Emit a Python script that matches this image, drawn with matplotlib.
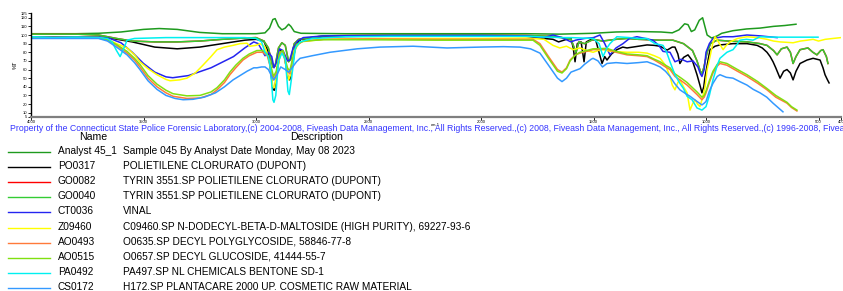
import numpy as np
import matplotlib
matplotlib.use("Agg")
import matplotlib.pyplot as plt

plt.rcParams['font.family'] = ['Liberation Sans', 'DejaVu Sans']

# spectra: (wavenumber cm-1, %T)
analyst = [(4000,101.5),(3800,101.5),(3700,102),(3600,103.5),(3500,106.5),(3430,107.5),(3350,106.5),(3250,103),
           (3150,101.5),(3000,101.5),(2960,102.5),(2940,108),(2925,118),(2915,119),(2900,110),(2885,106),(2870,108),
           (2855,112.5),(2845,110),(2830,104),(2800,102),(2600,101.5),(2200,101.5),(1800,101.5),(1650,101),(1500,102),
           (1400,103.5),(1300,104),(1200,103.5),(1150,102.5),(1120,106),(1095,113),(1080,112),(1065,104),(1050,106),
           (1030,117),(1015,120),(1005,110),(995,100),(975,96.5),(950,99),(930,102),(880,105),(820,107),(760,108),
           (700,110),(650,111),(600,112.5)]

po0317 = [(4000,97.5),(3700,97.5),(3650,96.5),(3550,92),(3450,86),(3350,84),(3250,86),(3150,90),(3050,94),(3000,95),
          (2965,93),(2945,80),(2925,37),(2918,36),(2905,60),(2890,82),(2875,78),(2858,50),(2850,48),(2840,60),(2825,88),
          (2800,95),(2700,98),(2400,99),(2100,99),(1800,98.5),(1720,96),(1680,95),(1655,92),(1620,95),(1600,96),
          (1590,85),(1582,69),(1572,90),(1555,92),(1542,69),(1532,92),(1510,95),(1490,94),(1462,67),(1450,75),
          (1440,71),(1420,78),(1396,83),(1370,86),(1351,85),(1300,87),(1262,88.5),(1230,88),(1204,87),(1173,82.5),
          (1150,86),(1138,86),(1125,78),(1116,67),(1100,74),(1080,77),(1060,70),(1040,54),(1025,40),(1018,33),
          (1010,40),(1004,52),(990,72),(982,83),(960,87),(938,88.5),(880,90),(818,90),(773,88),(750,85),(729,80),
          (715,75),(702,69),(690,62),(671,50),(655,58),(640,60),(625,56),(613,48),(600,58),(582,67),(551,71),
          (524,73),(493,71),(480,62),(471,54),(460,48),(453,44.5)]

go0040 = [(4000,101),(3800,101),(3700,100),(3620,96),(3550,93),(3450,92),(3350,92),(3250,93),(3150,95),(3050,96.5),
          (3000,97),(2965,93),(2945,85),(2925,63),(2915,64),(2900,85),(2885,91),(2870,88),(2855,69),(2845,72),
          (2830,90),(2810,95),(2700,99),(2400,100),(2000,100),(1800,99.5),(1700,98.5),(1640,97),(1600,95),(1578,80),
          (1565,92),(1540,90),(1500,95),(1460,93),(1400,95),(1351,96),(1300,95),(1204,94),(1147,94),(1100,90),
          (1060,82),(1040,70),(1025,58),(1018,55),(1010,62),(995,80),(980,90),(951,94),(900,93),(818,92),(760,90),
          (729,88),(700,82),(684,77),(665,84),(640,86),(625,80),(613,67),(600,75),(582,83),(547,85),(525,80),
          (507,77),(490,82),(480,83),(465,75),(458,67)]

# GO0082 lies under GO0040 (same material)
go0082 = go0040

ct0036 = [(4000,97.5),(3700,97.5),(3650,96),(3600,91),(3550,80),(3500,67),(3450,57),(3400,51.5),(3370,50.5),
          (3300,53),(3200,62),(3100,75),(3050,85),(3010,92),(2990,90),(2960,76),(2945,80),(2930,75),(2920,62),
          (2910,68),(2895,84),(2880,82),(2860,70),(2850,71),(2835,85),(2815,93),(2790,97),(2700,99),(2400,99.5),
          (2000,99.5),(1800,99),(1720,97),(1680,100),(1640,97),(1600,92),(1580,94),(1540,96),(1500,97),(1471,100),
          (1450,90),(1427,77),(1400,85),(1369,90),(1340,96),(1307,98),(1270,96),(1236,94),(1210,88),(1191,81),
          (1160,80),(1150,75),(1138,69),(1110,72),(1084,69),(1058,70),(1036,63),(1025,55),(1018,52),(1008,60),
          (1000,80),(985,90),(969,96),(924,98),(880,98),(818,100),(760,99),(684,97)]

z09460 = [(4000,97),(3700,97),(3660,95),(3620,90),(3573,85),(3540,77),(3516,69),(3480,61),(3440,54),(3400,48.5),
          (3382,47),(3340,48),(3307,50),(3270,56),(3236,65),(3200,75),(3173,83),(3140,86),(3102,88),(3071,90),
          (3040,90.5),(3027,87),(3000,88),(2982,90),(2960,86),(2940,70),(2925,40),(2918,39),(2905,60),(2890,80),
          (2875,76),(2855,48),(2845,55),(2830,82),(2804,92),(2700,95),(2500,96),(2200,96),(2000,96),(1800,96.5),
          (1720,95),(1680,88),(1650,85),(1620,87),(1590,83),(1560,85),(1530,82),(1502,80),(1480,82),(1458,83),
          (1420,81),(1351,80),(1300,80),(1262,79),(1230,76),(1204,73),(1180,65),(1160,52),(1150,42),(1138,36.5),
          (1125,45),(1116,48),(1100,40),(1084,33),(1071,13),(1060,20),(1049,25),(1038,20),(1027,17),(1015,28),
          (1004,40),(995,60),(982,75),(970,90),(960,98),(945,92),(924,83),(910,88),(893,92),(860,96),(818,98),
          (770,97),(729,95),(700,93),(671,92),(640,91.5),(613,91),(580,93),(550,94),(524,95),(500,93),(470,95),
          (436,96),(400,97)]

ao0493 = [(4000,96.5),(3700,96.5),(3660,94),(3620,88),(3573,79),(3540,71),(3516,63),(3480,50),(3440,40),(3400,33),
          (3369,29),(3307,26.5),(3249,27),(3200,31),(3173,36.5),(3140,45),(3116,54),(3090,62),(3058,71),(3030,76),
          (2996,80),(2970,80),(2950,76),(2935,62),(2922,48),(2910,55),(2895,78),(2880,80),(2860,58),(2850,55),
          (2838,70),(2820,88),(2790,93),(2700,95),(2500,95.5),(2200,95),(2000,95),(1850,95),(1769,95),(1738,90),
          (1700,75),(1660,60),(1640,57),(1620,62),(1604,71),(1580,77),(1560,79),(1502,83),(1440,83.5),(1400,80),
          (1351,77),(1300,76),(1262,75),(1230,71),(1204,67),(1180,63),(1160,60),(1138,52),(1110,47),(1084,42),
          (1060,36),(1040,31),(1018,25),(1008,28),(1000,33),(985,45),(969,56),(950,64),(938,67),(907,65),(860,58),
          (818,52),(770,44),(729,36.5),(690,28),(640,21),(620,16),(596,12)]

ao0515 = [(4000,97),(3700,97),(3660,94.5),(3620,89),(3573,81),(3540,73),(3516,66),(3480,53),(3440,43),(3400,36),
          (3369,32),(3307,29.5),(3249,30),(3200,34),(3173,39),(3140,48),(3116,57),(3090,65),(3058,73),(3030,78),
          (2996,82),(2970,82),(2950,78),(2935,65),(2922,52),(2910,58),(2895,80),(2880,82),(2860,62),(2850,58),
          (2838,72),(2820,89),(2790,93),(2700,94.5),(2500,94.5),(2200,94),(2000,94),(1850,94),(1769,94),(1738,88),
          (1700,73),(1660,58),(1640,56),(1620,61),(1604,70),(1580,77),(1560,80),(1502,84),(1440,84.5),(1400,81),
          (1351,78),(1300,77),(1262,76),(1230,72),(1204,69),(1180,65),(1160,62),(1138,55),(1110,50),(1084,45),
          (1060,39),(1040,34),(1018,28),(1008,30),(1000,35),(985,47),(969,58),(950,66),(938,69),(907,67),(860,60),
          (818,54),(770,46),(729,38),(690,30),(640,22),(620,17),(596,13)]

pa0492 = [(4000,98),(3900,97),(3800,97.5),(3700,97),(3660,96),(3640,92),(3620,82),(3604,75),(3590,83),(3573,94),
          (3540,96),(3400,97),(3200,97),(3050,97),(3000,96),(2975,92),(2960,80),(2945,75),(2935,60),(2925,25),
          (2920,22),(2912,30),(2900,70),(2885,79),(2870,72),(2858,35),(2852,31),(2842,50),(2825,85),(2804,92),
          (2750,96),(2600,98),(2400,98.5),(2000,98.5),(1800,98.5),(1700,97.5),(1640,97),(1600,97),(1502,96),
          (1475,90),(1458,75),(1440,85),(1427,90),(1396,98),(1340,97),(1307,96),(1262,96),(1227,90),(1191,88),
          (1175,80),(1160,69),(1138,54),(1116,44),(1100,38),(1084,29),(1062,25),(1040,15.5),(1018,13),(1000,17),
          (985,30),(969,48),(950,65),(938,73),(907,80),(880,83),(865,88),(849,94),(820,95),(791,94),(760,98),
          (702,97.5),(600,97.5),(502,97.5)]

cs0172 = [(4000,96),(3700,96),(3660,93),(3620,86),(3573,77),(3540,68),(3516,60),(3480,47),(3440,37),(3400,30),
          (3360,26.5),(3324,25),(3280,25.5),(3230,28),(3180,33),(3140,40),(3102,48),(3071,53),(3040,58),(3010,62),
          (2996,62),(2975,63),(2960,63),(2945,60),(2930,52),(2920,48),(2905,55),(2890,63),(2870,60),(2855,57),
          (2840,62),(2820,69),(2804,73),(2750,76),(2671,80),(2550,84),(2449,86),(2302,87),(2151,85),(2004,86),
          (1900,86.5),(1827,86),(1780,84),(1738,79),(1700,65),(1660,50),(1640,46),(1620,50),(1600,57),(1560,61),
          (1540,66),(1510,72),(1502,73),(1480,70),(1460,63),(1440,67),(1400,68),(1351,67),(1300,68),(1262,69),
          (1230,66),(1204,63),(1180,58),(1160,52),(1140,44),(1116,36.5),(1090,32),(1071,29),(1040,23),(1018,19),
          (1008,21),(1000,23),(985,35),(969,44),(950,52),(938,54),(910,51),(880,50),(850,46),(818,42),(790,37),
          (760,33),(730,28),(702,21),(680,16),(658,11)]

names = ["Analyst 45_1", "PO0317", "GO0082", "GO0040", "CT0036", "Z09460", "AO0493", "AO0515", "PA0492", "CS0172"]
descriptions = ["Sample 045 By Analyst Date Monday, May 08 2023",
                "POLIETILENE CLORURATO (DUPONT)",
                "TYRIN 3551.SP POLIETILENE CLORURATO (DUPONT)",
                "TYRIN 3551.SP POLIETILENE CLORURATO (DUPONT)",
                "VINAL",
                "C09460.SP N-DODECYL-BETA-D-MALTOSIDE (HIGH PURITY), 69227-93-6",
                "O0635.SP DECYL POLYGLYCOSIDE, 58846-77-8",
                "O0657.SP DECYL GLUCOSIDE, 41444-55-7",
                "PA497.SP NL CHEMICALS BENTONE SD-1",
                "H172.SP PLANTACARE 2000 UP. COSMETIC RAW MATERIAL"]
colors = ["#1e9a1e", "#000000", "#ff0000", "#33cc33", "#2424f0", "#ffff00", "#ff7a3a", "#80e010", "#00f0f0", "#3399ff"]
spectra = [analyst, po0317, go0082, go0040, ct0036, z09460, ao0493, ao0515, pa0492, cs0172]

copyright = ("Property of the Connecticut State Police Forensic Laboratory,(c) 2004-2008, Fiveash Data Management, "
             "Inc., All Rights Reserved.,(c) 2008, Fiveash Data Management, Inc., All Rights Reserved.,(c) 1996-2008, "
             "Fiveash Data Management, Inc., All Rights Reserved.")

W, H = 843, 291
fig = plt.figure(figsize=(W/100, H/100), dpi=100)
ax = fig.add_axes([31/W, 1-117/H, 810/W, 104/H])

for spec, c in zip(spectra, colors):
    s = np.array(spec)
    ax.plot(s[:, 0], s[:, 1], color=c, lw=1.1)

ax.set_xlim(4000, 400)
ax.set_ylim(5, 125.5)
ax.set_xticks([4000, 3500, 3000, 2500, 2000, 1500, 1000, 500, 400])
ax.set_yticks([5, 10, 20, 30, 40, 50, 60, 70, 80, 90, 100, 110, 120, 125])
ax.tick_params(labelsize=3, length=2, width=0.6, pad=0.5)
for s in ['top', 'right']:
    ax.spines[s].set_visible(False)
ax.spines['left'].set_linewidth(1.0)
ax.spines['bottom'].set_color('#7f7f7f')
ax.spines['bottom'].set_linewidth(1.6)
ax.set_ylabel('%T', fontsize=4, labelpad=2)

# overlay in pixel units for the table below the plot
ov = fig.add_axes([0, 0, 1, 1])
ov.set_xlim(0, W)
ov.set_ylim(H, 0)
ov.axis('off')

ov.text(435, 125.5, 'cm-1', fontsize=3, ha='center', va='center')
ov.text(10, 128.8, copyright, fontsize=6.3, color='#3535ff', ha='left', va='center', clip_on=False)
ov.text(93, 136.8, 'Name', fontsize=7.6, ha='center', va='center')
ov.text(317, 136.8, 'Description', fontsize=7.6, ha='center', va='center')

for i, (n, d, c) in enumerate(zip(names, descriptions, colors)):
    y = 151 + i * 15.1
    ov.plot([8, 50], [y + 1, y + 1], color=c, lw=1.0)
    ov.text(58, y, n, fontsize=7.3, ha='left', va='center')
    ov.text(123, y, d, fontsize=7.3, ha='left', va='center')

fig.savefig('out.png', dpi=100)
